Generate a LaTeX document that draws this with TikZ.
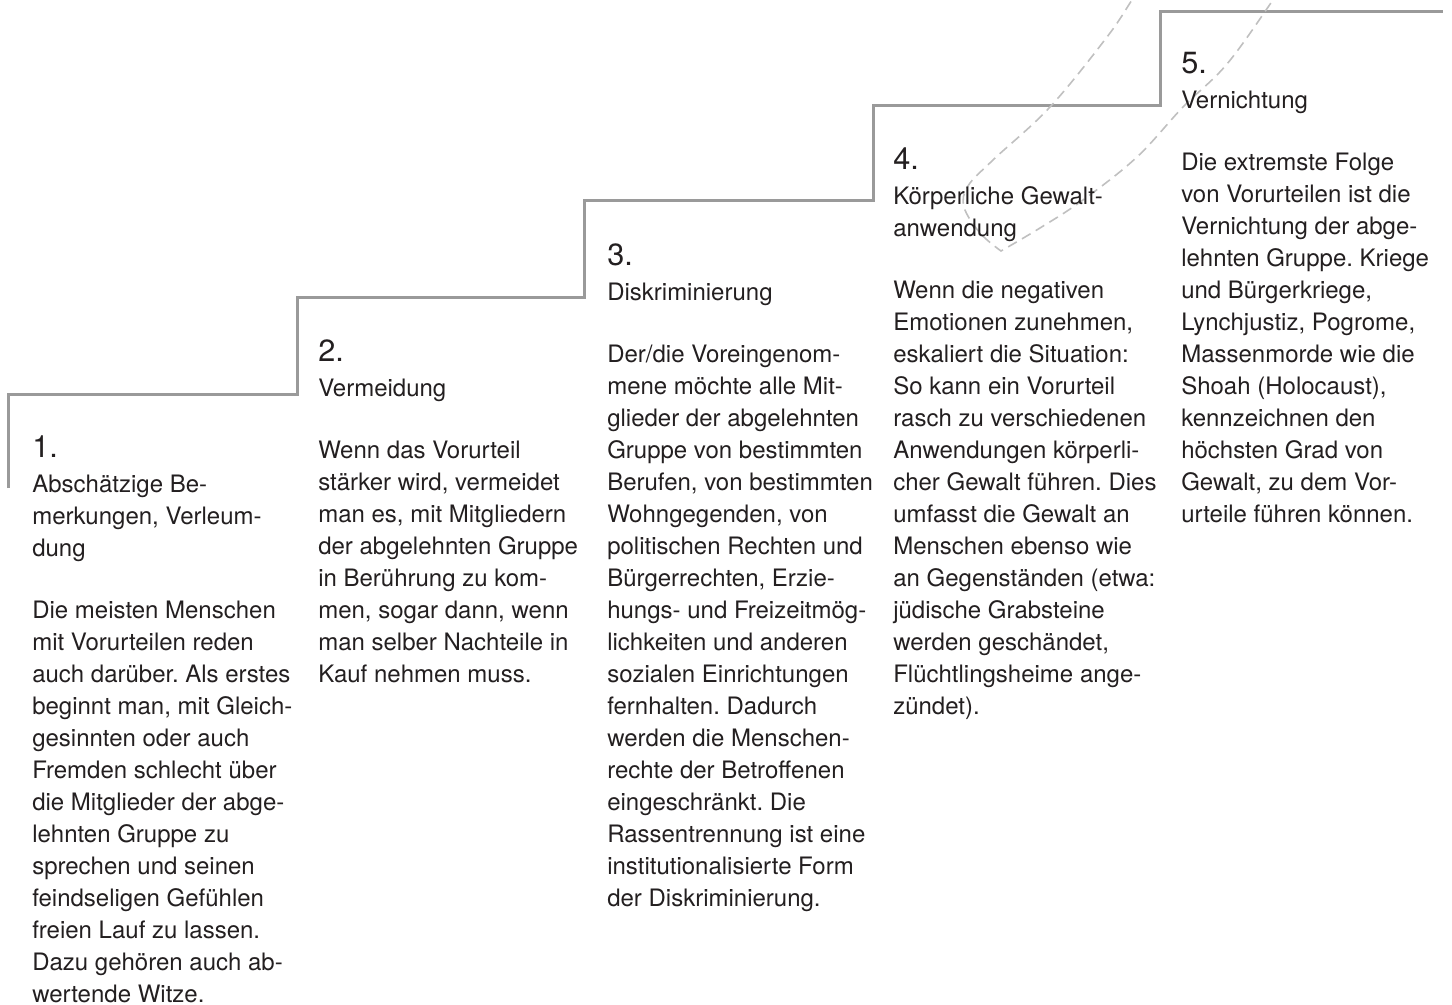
\documentclass[tikz,border=0pt]{standalone}
\usepackage{fontspec}
\setmainfont{TeX Gyre Heros}
\frenchspacing
\definecolor{stair}{HTML}{9A9A9A}
\definecolor{dashc}{HTML}{C0C0C0}
\definecolor{ink}{HTML}{231F20}
\newcommand{\bodyfont}{\fontsize{18}{24}\selectfont\frenchspacing}
\newcommand{\numfont}{\fontsize{23}{28}\selectfont}
\newcommand{\fl}{\rule{0pt}{20pt}}
\newcommand{\fn}{\rule{0pt}{24pt}}
\begin{document}
\begin{tikzpicture}[x=0.75pt,y=-0.75pt,
 txt/.style={anchor=north west, inner sep=0pt, align=left, text=ink, font=\bodyfont},
 num/.style={anchor=north west, inner sep=0pt, text=ink, font=\numfont},
 stairline/.style={draw=stair, line width=2.25pt, line join=miter},
 guide/.style={draw=dashc, line width=1.2pt, dash pattern=on 7.5pt off 4.5pt}]
\useasboundingbox (0,0) rectangle (1452,1005);

% staircase
\coordinate (s0) at (8,488);
\coordinate (s1) at (8,394);
\coordinate (s2) at (297,394);
\coordinate (s3) at (297,298);
\coordinate (s4) at (584,298);
\coordinate (s5) at (584,201);
\coordinate (s6) at (873,201);
\coordinate (s7) at (873,106);
\coordinate (s8) at (1160,106);
\coordinate (s9) at (1160,12);
\coordinate (s10) at (1443,12);
\draw[stairline] (s0) -- (s1) -- (s2) -- (s3) -- (s4) -- (s5) -- (s6) -- (s7) -- (s8) -- (s9) -- (s10);

% dashed loop
\begin{scope}
\clip (0,0) rectangle (1452,1005);
\draw[guide] plot[smooth, tension=0.6] coordinates {(1149,-25) (1132,0) (1107,37) (1050,107) (993,160) (968,186) (964,207) (980,233) (1001,251)}
  -- plot[smooth, tension=0.6] coordinates {(1001,251) (1040,228) (1083,200) (1137,157) (1183,107) (1227,64) (1273,0) (1290,-25)};
\end{scope}

% column 1
\node[num] (n1) at ([yshift=24pt]32,457) {\fn 1.};
\node[txt] (t1) at ([yshift=20pt]32,492) {\fl Abschätzige Be-\\merkungen, Verleum-\\dung};
\node[txt] (b1) at ([yshift=20pt]32,618) {\fl Die meisten Menschen\\mit Vorurteilen reden\\auch darüber. Als erstes\\beginnt man, mit Gleich-\\gesinnten oder auch\\Fremden schlecht über\\die Mitglieder der abge-\\lehnten Gruppe zu\\sprechen und seinen\\feindseligen Gefühlen\\freien Lauf zu lassen.\\Dazu gehören auch ab-\\wertende Witze.};

% column 2
\node[num] (n2) at ([yshift=24pt]318,361) {\fn 2.};
\node[txt] (t2) at ([yshift=20pt]318,396) {\fl Vermeidung};
\node[txt] (b2) at ([yshift=20pt]318,458) {\fl Wenn das Vorurteil\\stärker wird, vermeidet\\man es, mit Mitgliedern\\der abgelehnten Gruppe\\in Berührung zu kom-\\men, sogar dann, wenn\\man selber Nachteile in\\Kauf nehmen muss.};

% column 3
\node[num] (n3) at ([yshift=24pt]607,265) {\fn 3.};
\node[txt] (t3) at ([yshift=20pt]607,300) {\fl Diskriminierung};
\node[txt] (b3) at ([yshift=20pt]607,362) {\fl Der/die Voreingenom-\\mene möchte alle Mit-\\glieder der abgelehnten\\Gruppe von bestimmten\\Berufen, von bestimmten\\Wohngegenden, von\\politischen Rechten und\\Bürgerrechten, Erzie-\\hungs- und Freizeitmög-\\lichkeiten und anderen\\sozialen Einrichtungen\\fernhalten. Dadurch\\werden die Menschen-\\rechte der Betroffenen\\eingeschränkt. Die\\Rassentrennung ist eine\\institutionalisierte Form\\der Diskriminierung.};

% column 4
\node[num] (n4) at ([yshift=24pt]893,169) {\fn 4.};
\node[txt] (t4) at ([yshift=20pt]893,204) {\fl Körperliche Gewalt-\\anwendung};
\node[txt] (b4) at ([yshift=20pt]893,298) {\fl Wenn die negativen\\Emotionen zunehmen,\\eskaliert die Situation:\\So kann ein Vorurteil\\rasch zu verschiedenen\\Anwendungen körperli-\\cher Gewalt führen. Dies\\umfasst die Gewalt an\\Menschen ebenso wie\\an Gegenständen (etwa:\\jüdische Grabsteine\\werden geschändet,\\Flüchtlingsheime ange-\\zündet).};

% column 5
\node[num] (n5) at ([yshift=24pt]1181,73) {\fn 5.};
\node[txt] (t5) at ([yshift=20pt]1181,108) {\fl Vernichtung};
\node[txt] (b5) at ([yshift=20pt]1181,170) {\fl Die extremste Folge\\von Vorurteilen ist die\\Vernichtung der abge-\\lehnten Gruppe. Kriege\\und Bürgerkriege,\\Lynchjustiz, Pogrome,\\Massenmorde wie die\\Shoah (Holocaust),\\kennzeichnen den\\höchsten Grad von\\Gewalt, zu dem Vor-\\urteile führen können.};
\end{tikzpicture}
\end{document}
